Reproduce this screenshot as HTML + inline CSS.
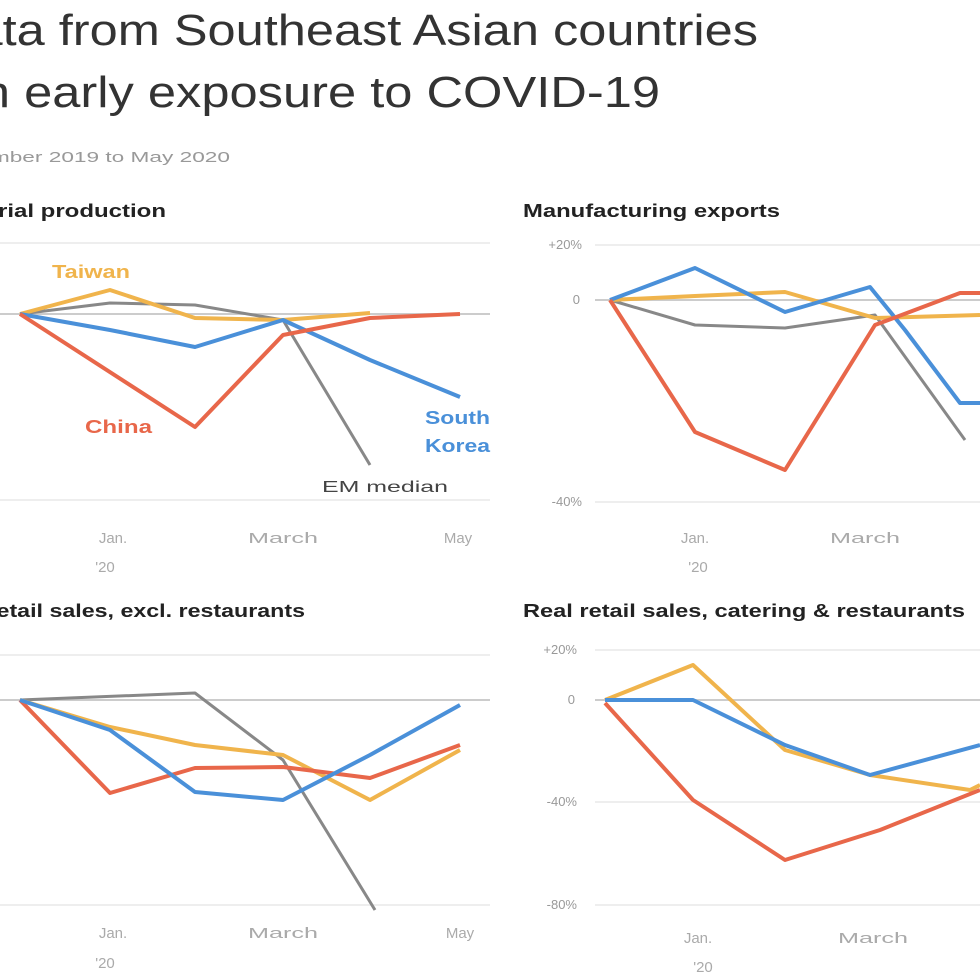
<!DOCTYPE html>
<html><head><meta charset="utf-8"><style>
html,body{margin:0;padding:0;background:#fff;width:980px;height:980px;overflow:hidden}
svg{display:block;font-family:"Liberation Sans",sans-serif}
</style></head><body>
<svg width="980" height="980" viewBox="0 0 980 980">
<text x="-62" y="45" font-size="44" fill="#333" textLength="820" lengthAdjust="spacingAndGlyphs">Data from Southeast Asian countries</text>
<text x="-80" y="107" font-size="44" fill="#333" textLength="740" lengthAdjust="spacingAndGlyphs">with early exposure to COVID-19</text>
<text x="-62" y="162" font-size="15" fill="#999" textLength="292" lengthAdjust="spacingAndGlyphs">December 2019 to May 2020</text>
<g font-size="18" font-weight="bold" fill="#222">
<text x="-74" y="217" textLength="240" lengthAdjust="spacingAndGlyphs">Industrial production</text>
<text x="523" y="217" textLength="257" lengthAdjust="spacingAndGlyphs">Manufacturing exports</text>
<text x="-68" y="617" textLength="373" lengthAdjust="spacingAndGlyphs">Real retail sales, excl. restaurants</text>
<text x="523" y="617" textLength="442" lengthAdjust="spacingAndGlyphs">Real retail sales, catering &amp; restaurants</text>
</g>
<g stroke="#eee" stroke-width="2">
<line x1="0" y1="243" x2="490" y2="243"/><line x1="0" y1="500" x2="490" y2="500"/>
<line x1="595" y1="245" x2="980" y2="245"/><line x1="595" y1="502" x2="980" y2="502"/>
<line x1="0" y1="655" x2="490" y2="655"/><line x1="0" y1="905" x2="490" y2="905"/>
<line x1="595" y1="650" x2="980" y2="650"/><line x1="595" y1="802" x2="980" y2="802"/><line x1="595" y1="905" x2="980" y2="905"/>
</g>
<g stroke="#ccc" stroke-width="2">
<line x1="0" y1="314" x2="490" y2="314"/><line x1="595" y1="300" x2="980" y2="300"/>
<line x1="0" y1="700" x2="490" y2="700"/><line x1="595" y1="700" x2="980" y2="700"/>
</g>
<g font-size="13" fill="#999" text-anchor="end">
<text x="582" y="249">+20%</text><text x="580" y="304">0</text><text x="582" y="506">-40%</text>
<text x="577" y="654">+20%</text><text x="575" y="704">0</text><text x="577" y="806">-40%</text><text x="577" y="909">-80%</text>
</g>
<g font-size="15" fill="#aaa" text-anchor="middle">
<text x="113" y="543">Jan.</text><text x="105" y="572">'20</text><text x="283" y="543" textLength="70" lengthAdjust="spacingAndGlyphs">March</text><text x="458" y="543">May</text>
<text x="695" y="543">Jan.</text><text x="698" y="572">'20</text><text x="865" y="543" textLength="70" lengthAdjust="spacingAndGlyphs">March</text>
<text x="113" y="938">Jan.</text><text x="105" y="968">'20</text><text x="283" y="938" textLength="70" lengthAdjust="spacingAndGlyphs">March</text><text x="460" y="938">May</text>
<text x="698" y="943">Jan.</text><text x="703" y="972">'20</text><text x="873" y="943" textLength="70" lengthAdjust="spacingAndGlyphs">March</text>
</g>
<g fill="none" stroke-width="4" stroke-linejoin="round">
<polyline stroke="#888" stroke-width="3" points="20,314 110,303 195,305 283,320 370,465"/>
<polyline stroke="#f0b44c" points="20,314 110,290 195,318 283,320 370,313"/>
<polyline stroke="#4a90d9" points="20,314 110,330 195,347 283,320 370,360 460,397"/>
<polyline stroke="#e8674a" points="20,314 195,427 283,335 370,318 460,314"/>

<polyline stroke="#888" stroke-width="3" points="610,300 695,325 785,328 875,315 965,440"/>
<polyline stroke="#f0b44c" points="610,300 695,296 785,292 875,318 980,315"/>
<polyline stroke="#4a90d9" points="610,300 695,268 785,312 870,287 905,330 960,403 980,403"/>
<polyline stroke="#e8674a" points="610,300 695,432 785,470 875,325 960,293 980,293"/>

<polyline stroke="#888" stroke-width="3" points="20,700 195,693 283,760 375,910"/>
<polyline stroke="#f0b44c" points="20,700 110,727 195,745 283,755 370,800 460,750"/>
<polyline stroke="#e8674a" points="20,700 110,793 195,768 283,767 370,778 460,745"/>
<polyline stroke="#4a90d9" points="20,700 110,730 195,792 283,800 370,755 460,705"/>

<polyline stroke="#f0b44c" points="605,700 693,665 785,750 870,775 970,790 980,785"/>
<polyline stroke="#4a90d9" points="605,700 693,700 785,745 870,775 980,745"/>
<polyline stroke="#e8674a" points="605,703 693,800 785,860 880,830 980,790"/>
</g>
<g font-size="18" font-weight="bold">
<text x="52" y="278" fill="#f0b44c" textLength="78" lengthAdjust="spacingAndGlyphs">Taiwan</text>
<text x="85" y="433" fill="#e8674a" textLength="67" lengthAdjust="spacingAndGlyphs">China</text>
<text x="425" y="424" fill="#4a90d9" textLength="65" lengthAdjust="spacingAndGlyphs">South</text>
<text x="425" y="452" fill="#4a90d9" textLength="65" lengthAdjust="spacingAndGlyphs">Korea</text>
</g>
<text x="322" y="492" font-size="16" fill="#444" textLength="126" lengthAdjust="spacingAndGlyphs">EM median</text>
</svg>
</body></html>
